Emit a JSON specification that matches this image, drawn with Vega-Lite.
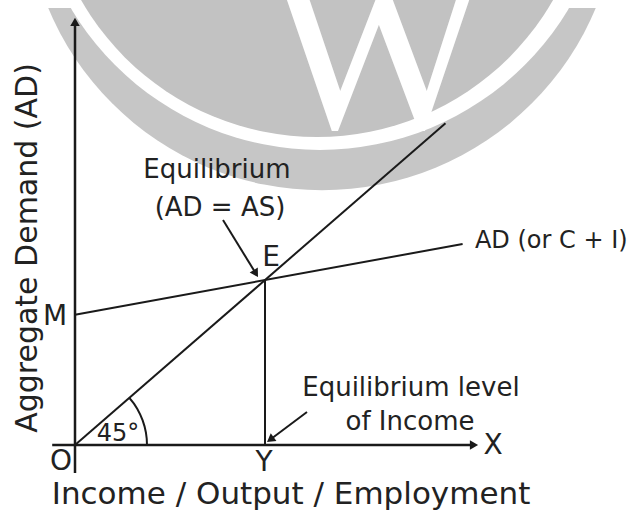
{
  "$schema": "https://vega.github.io/schema/vega-lite/v6.json",
  "width": 631,
  "height": 515,
  "autosize": {"type": "none"},
  "padding": 0,
  "background": "white",
  "config": {"view": {"stroke": null}},
  "datasets": {
    "segments": [
      {"name": "yaxis", "x": 0, "y": -17, "x2": 0, "y2": 256},
      {"name": "xaxis", "x": -12, "y": 0, "x2": 210, "y2": 0},
      {"name": "line45", "x": 0, "y": 0, "x2": 195, "y2": 195},
      {"name": "AD", "x": 0, "y": 79, "x2": 204, "y2": 121.8},
      {"name": "EY", "x": 100, "y": 0, "x2": 100, "y2": 100},
      {"name": "arrow1", "x": 77.9, "y": 136.4, "x2": 95.2, "y2": 103.9},
      {"name": "arrow2", "x": 122.1, "y": 20, "x2": 102.8, "y2": 3.3}
    ],
    "arc": [
      {"i": 0, "x": 37.89, "y": 0},
      {"i": 1, "x": 37.75, "y": 3.8},
      {"i": 2, "x": 37.32, "y": 7.58},
      {"i": 3, "x": 36.6, "y": 11.29},
      {"i": 4, "x": 35.61, "y": 14.92},
      {"i": 5, "x": 34.34, "y": 18.44},
      {"i": 6, "x": 32.82, "y": 21.82},
      {"i": 7, "x": 31.04, "y": 25.03},
      {"i": 8, "x": 28.6, "y": 28.63}
    ],
    "labels": [
      {"label": "Equilibrium", "x": 74.7, "y": 166.7, "kind": "note"},
      {"label": "(AD = AS)", "x": 76.3, "y": 143.6, "kind": "note"},
      {"label": "Equilibrium level", "x": 176.8, "y": 34.5, "kind": "note"},
      {"label": "of Income", "x": 176.3, "y": 13.9, "kind": "note"},
      {"label": "AD (or C + I)", "x": 210.5, "y": 123.6, "kind": "curve"},
      {"label": "E", "x": 103.2, "y": 113.3, "kind": "point"},
      {"label": "M", "x": -10.5, "y": 77.6, "kind": "point"},
      {"label": "O", "x": -7.4, "y": -10.3, "kind": "point"},
      {"label": "Y", "x": 99.5, "y": -10.9, "kind": "point"},
      {"label": "X", "x": 220, "y": -0.6, "kind": "point"},
      {"label": "45°", "x": 22.6, "y": 6.7, "kind": "angle"},
      {"label": "Income / Output / Employment", "x": 113.7, "y": -30.3, "kind": "xtitle"},
      {"label": "Aggregate Demand (AD)", "x": -24.7, "y": 119.4, "kind": "ytitle"}
    ]
  },
  "encoding": {
    "x": {"field": "x", "type": "quantitative", "scale": {"domain": [-39.474, 292.632], "nice": false, "zero": false}, "axis": null},
    "y": {"field": "y", "type": "quantitative", "scale": {"domain": [-42.424, 269.697], "nice": false, "zero": false}, "axis": null}
  },
  "layer": [
    {
      "data": {"values": [{"x": 130, "y": 334.24}]},
      "mark": {"type": "point", "shape": "circle", "filled": true, "color": "#c6c6c6", "size": 352361, "opacity": 1, "clip": true}
    },
    {
      "data": {"values": [{"x": 128.9, "y": 354.4}]},
      "mark": {"type": "point", "shape": "circle", "filled": true, "color": "white", "size": 335704, "opacity": 1, "clip": true}
    },
    {
      "data": {"values": [{"x": -45, "y": 264.8, "x2": 300, "y2": 280}]},
      "mark": {"type": "rect", "color": "white", "clip": true},
      "encoding": {"x2": {"field": "x2"}, "y2": {"field": "y2"}}
    },
    {
      "data": {"values": [{"x": 127.4, "y": 351.4}]},
      "mark": {"type": "point", "shape": "circle", "filled": true, "color": "#c2c2c2", "size": 295501, "opacity": 1, "clip": true}
    },
    {
      "data": {"values": [{"x": 159.5, "y": 192.7, "letter": "W"}]},
      "mark": {"type": "text", "font": "Liberation Serif", "fontSize": 235, "color": "white", "align": "center", "baseline": "alphabetic", "clip": true},
      "encoding": {"text": {"field": "letter"}}
    },
    {
      "data": {"name": "segments"},
      "transform": [{"filter": "datum.name == 'yaxis' || datum.name == 'xaxis'"}],
      "mark": {"type": "rule", "color": "#1a1a1a", "strokeWidth": 2.5},
      "encoding": {"x2": {"field": "x2"}, "y2": {"field": "y2"}}
    },
    {
      "data": {"name": "segments"},
      "transform": [{"filter": "datum.name != 'yaxis' && datum.name != 'xaxis'"}],
      "mark": {"type": "rule", "color": "#1a1a1a", "strokeWidth": 2},
      "encoding": {"x2": {"field": "x2"}, "y2": {"field": "y2"}}
    },
    {
      "data": {"name": "arc"},
      "mark": {"type": "line", "color": "#1a1a1a", "strokeWidth": 2},
      "encoding": {"order": {"field": "i", "type": "quantitative"}}
    },
    {
      "data": {"values": [{"x": 0, "y": 256.4}]},
      "mark": {"type": "point", "shape": "triangle-up", "filled": true, "color": "#1a1a1a", "size": 90, "opacity": 1, "angle": 0}
    },
    {
      "data": {"values": [{"x": 210, "y": 0}]},
      "mark": {"type": "point", "shape": "triangle-up", "filled": true, "color": "#1a1a1a", "size": 90, "opacity": 1, "angle": 90}
    },
    {
      "data": {"values": [{"x": 95.2, "y": 103.9}]},
      "mark": {"type": "point", "shape": "triangle-up", "filled": true, "color": "#1a1a1a", "size": 90, "opacity": 1, "angle": 148.5}
    },
    {
      "data": {"values": [{"x": 102.8, "y": 3.3}]},
      "mark": {"type": "point", "shape": "triangle-up", "filled": true, "color": "#1a1a1a", "size": 90, "opacity": 1, "angle": 233.1}
    },
    {
      "data": {"name": "labels"},
      "transform": [{"filter": "datum.kind == 'note'"}],
      "mark": {"type": "text", "font": "DejaVu Sans", "fontSize": 26, "color": "#222222", "align": "center", "baseline": "middle"},
      "encoding": {"text": {"field": "label"}}
    },
    {
      "data": {"name": "labels"},
      "transform": [{"filter": "datum.kind == 'curve'"}],
      "mark": {"type": "text", "font": "DejaVu Sans", "fontSize": 24, "color": "#222222", "align": "left", "baseline": "middle"},
      "encoding": {"text": {"field": "label"}}
    },
    {
      "data": {"name": "labels"},
      "transform": [{"filter": "datum.kind == 'point'"}],
      "mark": {"type": "text", "font": "DejaVu Sans", "fontSize": 28, "color": "#222222", "align": "center", "baseline": "middle"},
      "encoding": {"text": {"field": "label"}}
    },
    {
      "data": {"name": "labels"},
      "transform": [{"filter": "datum.kind == 'angle'"}],
      "mark": {"type": "text", "font": "DejaVu Sans", "fontSize": 24, "color": "#222222", "align": "center", "baseline": "middle"},
      "encoding": {"text": {"field": "label"}}
    },
    {
      "data": {"name": "labels"},
      "transform": [{"filter": "datum.kind == 'xtitle'"}],
      "mark": {"type": "text", "font": "DejaVu Sans", "fontSize": 31, "color": "#222222", "align": "center", "baseline": "middle"},
      "encoding": {"text": {"field": "label"}}
    },
    {
      "data": {"name": "labels"},
      "transform": [{"filter": "datum.kind == 'ytitle'"}],
      "mark": {"type": "text", "font": "DejaVu Sans", "fontSize": 30, "color": "#222222", "align": "center", "baseline": "middle", "angle": 270},
      "encoding": {"text": {"field": "label"}}
    }
  ]
}
